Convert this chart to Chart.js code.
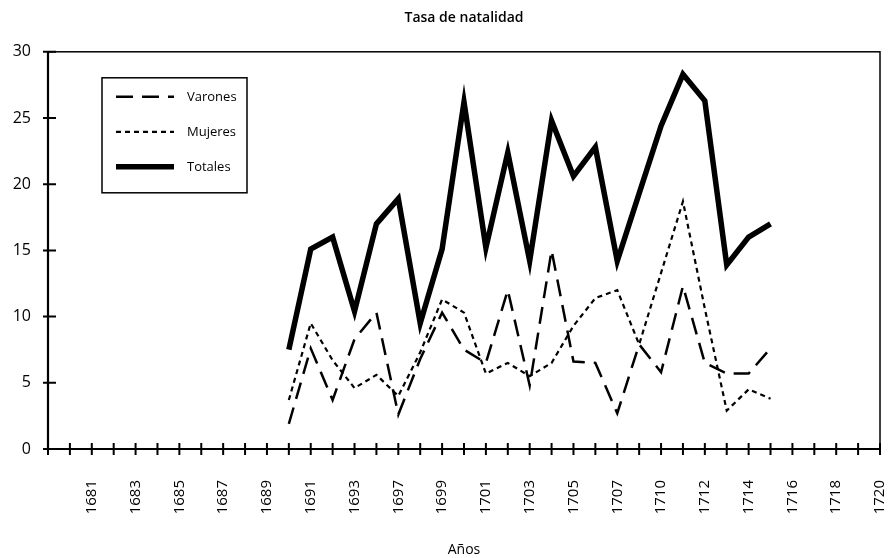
<!DOCTYPE html>
<html>
<head>
<meta charset="utf-8">
<title>Tasa de natalidad</title>
<script src="https://cdn.jsdelivr.net/npm/chart.js@4"></script>
<style>
  html, body { margin: 0; padding: 0; background: #fff; }
  #wrap { width: 888px; height: 558px; }
</style>
</head>
<body>
<div id="wrap"><canvas id="natalidadChart" width="888" height="558"></canvas></div>
<script>
// ---------- datos ----------
// categorías del eje (la primera va sin rótulo)
const categorias = ['', '1680', '1681', '1682', '1683', '1684', '1685', '1686', '1687', '1688', '1689',
  '1690', '1691', '1692', '1693', '1695', '1697', '1698', '1699', '1700', '1701', '1702', '1703',
  '1704', '1705', '1706', '1707', '1708', '1710', '1711', '1712', '1713', '1714', '1715', '1716',
  '1717', '1718', '1719', '1720'];

// años con datos
const anios = ['1690', '1691', '1692', '1693', '1695', '1697', '1698', '1699', '1700', '1701', '1702',
  '1703', '1704', '1705', '1706', '1707', '1708', '1710', '1711', '1712', '1713', '1714', '1715'];

const varones = [1.9, 7.6, 3.7, 8.3, 10.3, 2.6, 6.8, 10.3, 7.5, 6.5, 12.0,
  4.8, 15.0, 6.6, 6.5, 2.7, 7.9, 5.8, 12.3, 6.5, 5.7, 5.7, 7.6];
const mujeres = [3.7, 9.5, 6.7, 4.6, 5.6, 4.0, 7.3, 11.3, 10.3, 5.7, 6.5,
  5.5, 6.5, 9.3, 11.4, 12.0, 7.9, 13.3, 18.7, 10.6, 2.9, 4.5, 3.8];
const totales = [7.5, 15.1, 16.0, 10.4, 17.0, 18.9, 9.5, 15.1, 26.2, 15.2, 22.4,
  14.2, 24.8, 20.6, 22.8, 14.2, 19.3, 24.4, 28.3, 26.3, 13.9, 16.0, 17.0];

const yTicks = ['0', '5', '10', '15', '20', '25', '30'];

const FONT = "'Open Sans', 'Noto Sans', sans-serif";

function serie(valores) {
  return anios.map((a, i) => ({ x: a, y: valores[i] }));
}

// ---------- marco, marcas de eje y leyenda ----------
const marco = {
  id: 'marco',
  afterDraw(chart) {
    const { ctx, chartArea: a, scales: { x, y } } = chart;
    ctx.save();
    ctx.strokeStyle = '#000';
    ctx.lineCap = 'butt';

    // recuadro
    ctx.lineWidth = 1.5;
    ctx.strokeRect(a.left, a.top, a.right - a.left, a.bottom - a.top);

    // ejes
    ctx.lineWidth = 2.2;
    ctx.beginPath();
    ctx.moveTo(a.left, a.top);
    ctx.lineTo(a.left, a.bottom);
    ctx.lineTo(a.right, a.bottom);
    ctx.stroke();

    // marcas que cruzan los ejes
    ctx.lineWidth = 2;
    ctx.beginPath();
    y.ticks.forEach((t, i) => {
      const py = y.getPixelForTick(i);
      ctx.moveTo(a.left - 5, py);
      ctx.lineTo(a.left + 8, py);
    });
    x.ticks.forEach((t, i) => {
      const px = x.getPixelForTick(i);
      ctx.moveTo(px, a.bottom - 6);
      ctx.lineTo(px, a.bottom + 6);
    });
    ctx.stroke();

    // leyenda
    const lx = a.left + 54, ly = a.top + 26, lw = 145, lh = 115;
    ctx.lineWidth = 1.5;
    ctx.strokeRect(lx, ly, lw, lh);
    ctx.font = '13px ' + FONT;
    ctx.fillStyle = '#000';
    ctx.textBaseline = 'middle';
    chart.data.datasets.forEach((ds, i) => {
      const yy = ly + 19 + i * 35;
      ctx.save();
      ctx.lineWidth = ds.borderWidth;
      ctx.setLineDash(ds.borderDash || []);
      ctx.beginPath();
      ctx.moveTo(lx + 14, yy);
      ctx.lineTo(lx + 72, yy);
      ctx.stroke();
      ctx.restore();
      ctx.fillText(ds.label, lx + 85, yy);
    });
    ctx.restore();
  }
};

const ctx = document.getElementById('natalidadChart').getContext('2d');
new Chart(ctx, {
  type: 'line',
  data: {
    labels: categorias,
    datasets: [
      { label: 'Varones', data: serie(varones), borderColor: '#000', borderWidth: 2.5, borderDash: [17, 9] },
      { label: 'Mujeres', data: serie(mujeres), borderColor: '#000', borderWidth: 2.2, borderDash: [5, 4] },
      { label: 'Totales', data: serie(totales), borderColor: '#000', borderWidth: 5.5, borderDash: [] }
    ]
  },
  options: {
    responsive: false,
    animation: false,
    devicePixelRatio: 1,
    layout: { padding: { left: 0, right: 8, top: 0, bottom: 0 } },
    elements: {
      point: { radius: 0, hoverRadius: 0 },
      line: { tension: 0, fill: false, borderJoinStyle: 'miter', borderCapStyle: 'butt' }
    },
    plugins: {
      legend: { display: false },
      tooltip: { enabled: false },
      title: {
        display: true,
        fullSize: false,
        text: 'Tasa de natalidad',
        color: '#000',
        font: { family: FONT, size: 14, weight: '600' },
        padding: { top: 10, bottom: 25 }
      }
    },
    scales: {
      x: {
        type: 'category',
        offset: false,
        grid: { display: false, drawTicks: false },
        border: { display: false },
        ticks: {
          autoSkip: false,
          maxRotation: 90,
          minRotation: 90,
          padding: 31,
          color: '#000',
          font: { family: FONT, size: 15 },
          callback: function (val, index) {
            return index > 0 && index % 2 === 0 ? this.getLabelForValue(val) : '';
          }
        },
        title: {
          display: true,
          text: 'Años',
          color: '#000',
          font: { family: FONT, size: 14 },
          padding: { top: 0, bottom: 0 }
        },
        afterFit: s => { s.height = 109; s.paddingLeft = 0; s.paddingRight = 0; }
      },
      y: {
        min: 0,
        max: 30,
        grid: { display: false, drawTicks: false },
        border: { display: false },
        ticks: {
          stepSize: 5,
          padding: 17,
          color: '#000',
          font: { family: FONT, size: 16 },
          callback: (v, i) => yTicks[i]
        },
        afterFit: s => { s.width = 48; s.paddingTop = 0; s.paddingBottom = 0; }
      }
    }
  },
  plugins: [marco]
});
</script>
</body>
</html>
